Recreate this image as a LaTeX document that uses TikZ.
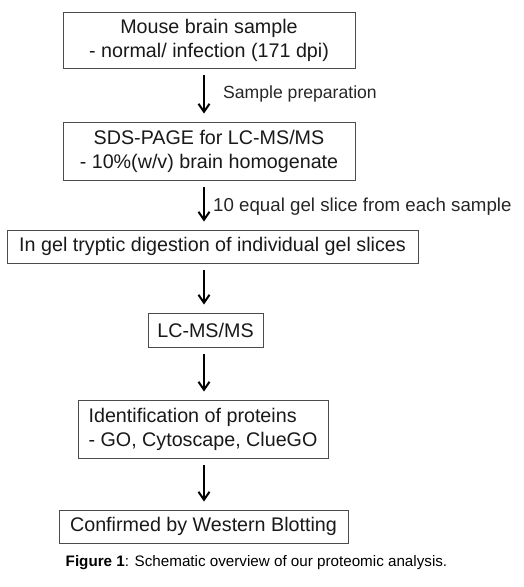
\documentclass[tikz,border=0pt]{standalone}
\usepackage{fontspec}
\setmainfont{Liberation Sans}
\usepackage{tikz}
\usetikzlibrary{positioning,arrows.meta,calc}
\tikzset{
  stepbox/.style={rectangle, draw=black!70, line width=0.9pt, fill=white,
                  align=center, inner sep=0pt, text=black!90,
                  font=\fontsize{19.7}{24}\selectfont},
  idbox/.style  ={stepbox, align=left},
  arr/.style    ={-{Straight Barb[length=8pt,width=11pt]}, line width=2pt,
                  shorten <=7pt, shorten >=8pt},
  el/.style     ={font=\fontsize{17.6}{20}\selectfont, text=black!85,
                  inner sep=0pt, anchor=west},
  captxt/.style ={font=\fontsize{15.2}{18}\selectfont, text=black, inner sep=0pt},
}

\begin{document}
\begin{tikzpicture}[x=1pt, y=-1pt]
  \useasboundingbox (0,0) rectangle (524,587);
  \coordinate (axis) at (204,0);
  % boxes
  \node[stepbox, minimum width=292pt, minimum height=56pt] (mouse) at (209,40)
    {Mouse brain sample\\- normal/ infection (171 dpi)};
  \node[stepbox, minimum width=292pt, minimum height=58pt] (sds) at (209,151)
    {SDS-PAGE for LC-MS/MS\\- 10\%(w/v) brain homogenate};
  \node[stepbox, minimum width=411pt, minimum height=33pt] (digest) at (212.5,246.5)
    {In gel tryptic digestion of individual gel slices};
  \node[stepbox, minimum width=115pt, minimum height=34pt] (lcms) at (205.5,330)
    {LC-MS/MS};
  \node[idbox, minimum width=250pt, minimum height=58pt] (ident) at (203,429)
    {Identification of proteins\\- GO, Cytoscape, ClueGO};
  \node[stepbox, minimum width=289pt, minimum height=33pt] (western) at (203.5,526.5)
    {Confirmed by Western Blotting};
  % arrows
  \draw[arr] (mouse.south -| axis) -- (sds.north -| axis);
  \draw[arr] (sds.south -| axis) -- (digest.north -| axis);
  \draw[arr] (digest.south -| axis) -- (lcms.north -| axis);
  \draw[arr] (lcms.south -| axis) -- (ident.north -| axis);
  \draw[arr] (ident.south -| axis) -- (western.north -| axis);
  % arrow labels
  \node[el] (prep) at (223,94) {Sample preparation};
  \node[el, font=\fontsize{18.7}{20}\selectfont] (slice) at (213,207)
    {10 equal gel slice from each sample};
  % caption
  \node[captxt] (caption) at (256.5,563)
    {\textbf{Figure 1}: Schematic overview of our proteomic analysis.};
\end{tikzpicture}
\end{document}
